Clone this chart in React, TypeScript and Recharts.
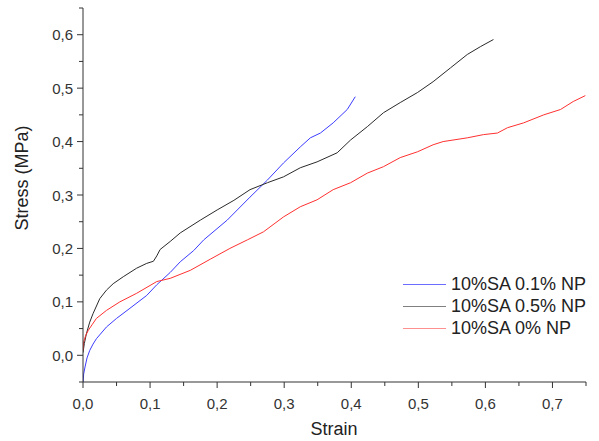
import React from 'react';
import { LineChart, Line, XAxis, YAxis, Legend } from 'recharts';

// 10%SA 0.1% NP (blue)
const blueStrain = [0, 0.001, 0.003, 0.006, 0.01, 0.015, 0.02, 0.035, 0.05, 0.07, 0.095, 0.11, 0.13, 0.145, 0.165, 0.18, 0.215, 0.249, 0.275, 0.299, 0.324, 0.339, 0.354, 0.373, 0.394, 0.406];
const blueStress = [-0.053, -0.035, -0.022, -0.005, 0.009, 0.021, 0.031, 0.053, 0.069, 0.088, 0.112, 0.132, 0.155, 0.175, 0.196, 0.216, 0.253, 0.296, 0.328, 0.36, 0.39, 0.407, 0.416, 0.435, 0.46, 0.484];

// 10%SA 0.5% NP (black)
const blackStrain = [0, 0.002, 0.005, 0.01, 0.015, 0.025, 0.035, 0.045, 0.06, 0.08, 0.095, 0.105, 0.11, 0.115, 0.13, 0.145, 0.175, 0.2, 0.225, 0.249, 0.275, 0.299, 0.324, 0.349, 0.379, 0.399, 0.424, 0.448, 0.473, 0.499, 0.522, 0.548, 0.573, 0.593, 0.612];
const blackStress = [0.005, 0.022, 0.04, 0.062, 0.078, 0.106, 0.122, 0.134, 0.147, 0.163, 0.172, 0.176, 0.186, 0.198, 0.213, 0.229, 0.253, 0.272, 0.29, 0.31, 0.323, 0.334, 0.351, 0.362, 0.379, 0.403, 0.428, 0.454, 0.473, 0.492, 0.512, 0.538, 0.563, 0.578, 0.591];

// 10%SA 0% NP (red)
const redStrain = [0, 0.001, 0.004, 0.008, 0.014, 0.02, 0.035, 0.055, 0.08, 0.11, 0.13, 0.16, 0.19, 0.219, 0.245, 0.269, 0.299, 0.324, 0.349, 0.373, 0.399, 0.424, 0.448, 0.473, 0.499, 0.522, 0.537, 0.573, 0.597, 0.618, 0.633, 0.657, 0.687, 0.712, 0.731, 0.749];
const redStress = [0.009, 0.025, 0.037, 0.047, 0.058, 0.069, 0.084, 0.1, 0.116, 0.138, 0.144, 0.159, 0.18, 0.2, 0.216, 0.231, 0.259, 0.278, 0.291, 0.31, 0.323, 0.341, 0.353, 0.37, 0.381, 0.394, 0.4, 0.407, 0.413, 0.416, 0.426, 0.435, 0.45, 0.46, 0.475, 0.486];

const xTicks = [0, 0.05, 0.1, 0.15, 0.2, 0.25, 0.3, 0.35, 0.4, 0.45, 0.5, 0.55, 0.6, 0.65, 0.7, 0.75];
const yTicks = [-0.05, 0, 0.05, 0.1, 0.15, 0.2, 0.25, 0.3, 0.35, 0.4, 0.45, 0.5, 0.55, 0.6, 0.65];
const xLabelled = [0, 0.1, 0.2, 0.3, 0.4, 0.5, 0.6, 0.7];
const yLabelled = [0, 0.1, 0.2, 0.3, 0.4, 0.5, 0.6];

const toRows = (xs: number[], ys: number[]) => xs.map((x, i) => ({ strain: x, stress: ys[i] }));

const series = [
  { name: '10%SA 0.1% NP', color: '#3c3cff', legendColor: '#6c6cff', data: toRows(blueStrain, blueStress) },
  { name: '10%SA 0.5% NP', color: '#2a2a2a', legendColor: '#808080', data: toRows(blackStrain, blackStress) },
  { name: '10%SA 0% NP', color: '#ff3030', legendColor: '#ff9090', data: toRows(redStrain, redStress) },
];

const FONT = '"Liberation Sans", Arial, sans-serif';
const fmt = (v: number) => v.toFixed(1).replace('.', ',');
const isMajor = (v: number, list: number[]) => list.some((t) => Math.abs(t - v) < 1e-6);

const XTick = (props: any) => {
  const { x, y, payload } = props;
  const major = isMajor(payload.value, xLabelled);
  return (
    <g>
      <line x1={x} x2={x} y1={y} y2={y + (major ? 6 : 4)} stroke="#333" strokeWidth={1} />
      {major && (
        <text x={x} y={y + 21} textAnchor="middle" dominantBaseline="central" fontSize={15} fill="#333" fontFamily={FONT}>
          {fmt(payload.value)}
        </text>
      )}
    </g>
  );
};

const YTick = (props: any) => {
  const { x, y, payload } = props;
  const major = isMajor(payload.value, yLabelled);
  return (
    <g>
      <line x1={x} x2={x - (major ? 6 : 4)} y1={y} y2={y} stroke="#333" strokeWidth={1} />
      {major && (
        <text x={x - 10} y={y} textAnchor="end" dominantBaseline="central" fontSize={15} fill="#333" fontFamily={FONT}>
          {fmt(payload.value)}
        </text>
      )}
    </g>
  );
};

const LegendBox = () => (
  <div style={{ fontFamily: FONT, fontSize: 18, color: '#222' }}>
    {series.map((s) => (
      <div key={s.name} style={{ display: 'flex', alignItems: 'center', height: 22, whiteSpace: 'nowrap' }}>
        <span style={{ display: 'inline-block', width: 43, height: 1, background: s.legendColor, marginRight: 5 }} />
        <span>{s.name}</span>
      </div>
    ))}
  </div>
);

export default function App() {
  return (
    <div style={{ position: 'relative', width: 599, height: 441, background: '#fff', fontFamily: FONT }}>
      <style>{'body{margin:0;}'}</style>
      <LineChart width={599} height={441} margin={{ top: 8, right: 13, left: 0, bottom: 0 }}>
        <XAxis
          type="number"
          dataKey="strain"
          domain={[0, 0.75]}
          ticks={xTicks}
          interval={0}
          height={59}
          tickSize={0}
          tickMargin={0}
          tickLine={false}
          tick={<XTick />}
          axisLine={{ stroke: '#333', strokeWidth: 1 }}
          allowDataOverflow
        />
        <YAxis
          type="number"
          domain={[-0.05, 0.65]}
          ticks={yTicks}
          interval={0}
          width={83}
          tickSize={0}
          tickMargin={0}
          tickLine={false}
          tick={<YTick />}
          axisLine={{ stroke: '#333', strokeWidth: 1 }}
          allowDataOverflow
        />
        <Legend
          layout="horizontal"
          verticalAlign="middle"
          align="center"
          content={<LegendBox />}
          wrapperStyle={{ position: 'absolute', left: 403, top: 273, width: 196, height: 70 }}
        />
        {series.map((s) => (
          <Line
            key={s.name}
            data={s.data}
            dataKey="stress"
            name={s.name}
            type="linear"
            stroke={s.color}
            strokeWidth={1}
            dot={false}
            isAnimationActive={false}
          />
        ))}
      </LineChart>
      <div
        style={{
          position: 'absolute',
          left: 22,
          top: 178,
          transform: 'translate(-50%, -50%) rotate(-90deg)',
          fontSize: 18,
          color: '#222',
          whiteSpace: 'nowrap',
        }}
      >
        Stress (MPa)
      </div>
      <div
        style={{
          position: 'absolute',
          left: 334,
          top: 429,
          transform: 'translate(-50%, -50%)',
          fontSize: 18,
          color: '#222',
          whiteSpace: 'nowrap',
        }}
      >
        Strain
      </div>
    </div>
  );
}
